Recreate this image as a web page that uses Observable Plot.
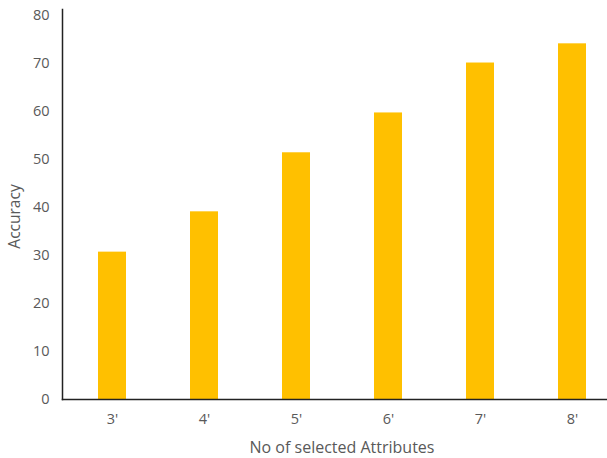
<!DOCTYPE html>
<html>
<head>
<meta charset="utf-8">
<script src="https://cdn.jsdelivr.net/npm/d3@7"></script>
<script src="https://cdn.jsdelivr.net/npm/@observablehq/plot@0.6"></script>
<style>
  html, body { margin: 0; padding: 0; background: #fff; }
</style>
</head>
<body>
<div id="chart"></div>
<script>
const categories = ["3'", "4'", "5'", "6'", "7'", "8'"];
const accuracy = [30.7, 39.1, 51.4, 59.7, 70.1, 74.1];
const yTicks = [0, 10, 20, 30, 40, 50, 60, 70, 80];
const xTitle = "No of selected Attributes";
const yTitle = "Accuracy";

const data = categories.map((c, i) => ({label: c, value: accuracy[i]}));

const chart = Plot.plot({
  width: 607,
  height: 458,
  marginLeft: 62,
  marginRight: 0,
  marginTop: 9,
  marginBottom: 59,
  style: {fontFamily: "Open Sans", fontSize: "14.5px", color: "#595959", background: "#fff"},
  x: {domain: categories, paddingInner: 0.696, paddingOuter: 0.307, align: 0.628, label: null},
  y: {domain: [0, 81.25], label: null},
  marks: [
    Plot.barY(data, {x: "label", y: "value", fill: "#FFC000"}),
    Plot.axisY({ticks: yTicks, tickSize: 0, tickPadding: 13, label: null, fill: "#595959"}),
    Plot.axisX({tickSize: 0, tickPadding: 14, label: null, fill: "#595959"}),
    Plot.frame({anchor: "left", stroke: "#222", strokeWidth: 1.5}),
    Plot.frame({anchor: "bottom", stroke: "#222", strokeWidth: 1.5}),
    Plot.text([yTitle], {frameAnchor: "left", textAnchor: "middle", lineAnchor: "middle", rotate: -90, dx: -47, dy: 12, fill: "#595959", fontSize: 15.5}),
    Plot.text([xTitle], {frameAnchor: "bottom", textAnchor: "middle", lineAnchor: "middle", dx: 7, dy: 48, fill: "#595959", fontSize: 16})
  ]
});
document.getElementById("chart").appendChild(chart);
</script>
</body>
</html>
